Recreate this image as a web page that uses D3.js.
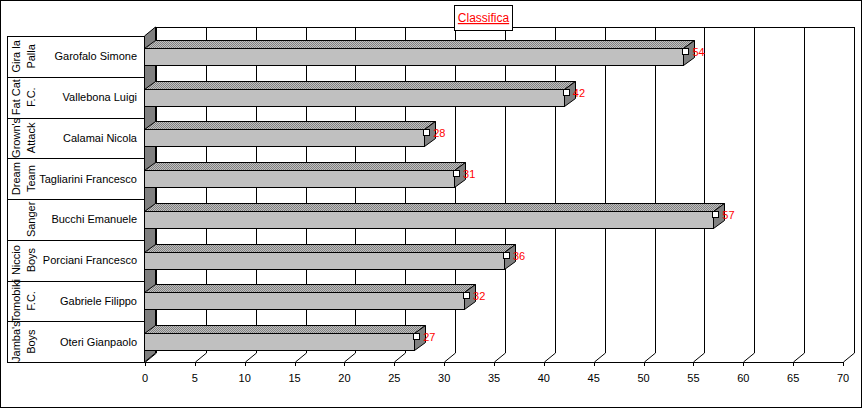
<!DOCTYPE html>
<html>
<head>
<meta charset="utf-8">
<script src="https://cdn.jsdelivr.net/npm/d3@7"></script>
<style>
  body { margin: 0; background: #fff; }
  svg { display: block; font-family: "Liberation Sans", Arial, sans-serif; }
</style>
</head>
<body>
<div></div>
<script>
const teams = [
  ["Gira la", "Palla"],
  ["Fat Cat", "F.C."],
  ["Grown's", "Attack"],
  ["Dream", "Team"],
  ["", "Sanger"],
  ["Niccio", "Boys"],
  ["Tomobiki", "F.C."],
  ["Jamba's", "Boys"],
];
const players = [
  "Garofalo Simone",
  "Vallebona Luigi",
  "Calamai Nicola",
  "Tagliarini Francesco",
  "Bucchi Emanuele",
  "Porciani Francesco",
  "Gabriele Filippo",
  "Oteri Gianpaolo",
];
const points = [54, 42, 28, 31, 57, 36, 32, 27];
const ticks = [0, 5, 10, 15, 20, 25, 30, 35, 40, 45, 50, 55, 60, 65, 70];

const w = 863;
const h = 410;
// depth of the 3d look
const dx = 11;
const dy = 9;
const plotTop = 36;
const plotBottom = 362;
const tableLeft = 7;

const svg = d3.select("div").append("svg").attr("width", w).attr("height", h);

const defs = svg.append("defs");
const pat = defs
  .append("pattern")
  .attr("id", "dither")
  .attr("width", 2)
  .attr("height", 2)
  .attr("patternUnits", "userSpaceOnUse");
pat.append("rect").attr("width", 2).attr("height", 2).attr("fill", "#c0c0c0");
pat.append("rect").attr("width", 1).attr("height", 1).attr("fill", "#808080");
pat.append("rect").attr("x", 1).attr("y", 1).attr("width", 1).attr("height", 1).attr("fill", "#808080");

const xScale = d3.scaleLinear().domain([0, 70]).range([145, 843]);
const yScale = d3.scaleBand().domain(players).range([plotTop, plotBottom]);
const barH = 17;

// outer frame
svg
  .append("rect")
  .attr("x", 0.5)
  .attr("y", 0.5)
  .attr("width", 861)
  .attr("height", 407)
  .attr("fill", "#fff")
  .attr("stroke", "#000");

const grid = svg.append("g").attr("stroke", "#000").attr("fill", "none");

// back wall top edge
grid
  .append("line")
  .attr("x1", xScale(0) + dx)
  .attr("x2", xScale(70) + dx)
  .attr("y1", plotTop - dy + 0.5)
  .attr("y2", plotTop - dy + 0.5);

// back wall verticals + floor slants + ticks
ticks.forEach((t) => {
  const x = Math.round(xScale(t)) + 0.5;
  grid
    .append("line")
    .attr("x1", x + dx)
    .attr("x2", x + dx)
    .attr("y1", plotTop - dy)
    .attr("y2", plotBottom - dy);
  grid
    .append("line")
    .attr("x1", x)
    .attr("y1", plotBottom)
    .attr("x2", x + dx)
    .attr("y2", plotBottom - dy);
  grid
    .append("line")
    .attr("x1", x)
    .attr("x2", x)
    .attr("y1", plotBottom)
    .attr("y2", plotBottom + 4);
});

// left wall
svg
  .append("polygon")
  .attr("points", [
    [xScale(0) - 0.5, plotTop],
    [xScale(0) + dx - 0.5, plotTop - dy],
    [xScale(0) + dx - 0.5, plotBottom - dy],
    [xScale(0) - 0.5, plotBottom],
  ].join(" "))
  .attr("fill", "#808080")
  .attr("stroke", "#000");

// left table with team and player names
const table = svg.append("g");
table
  .append("line")
  .attr("x1", tableLeft + 0.5)
  .attr("x2", tableLeft + 0.5)
  .attr("y1", plotTop)
  .attr("y2", plotBottom)
  .attr("stroke", "#000");
players.forEach((p, i) => {
  const y0 = Math.round(yScale(p)) + 0.5;
  table
    .append("line")
    .attr("x1", tableLeft)
    .attr("x2", xScale(0))
    .attr("y1", y0)
    .attr("y2", y0)
    .attr("stroke", "#000");
  const cy = yScale(p) + yScale.bandwidth() / 2;
  table
    .append("text")
    .attr("x", 137)
    .attr("y", cy + 4)
    .attr("text-anchor", "end")
    .attr("font-size", "11px")
    .text(p);
  teams[i].forEach((line, j) => {
    if (line === "") return;
    table
      .append("text")
      .attr("transform", "translate(" + (20 + j * 15) + "," + cy + ") rotate(-90)")
      .attr("text-anchor", "middle")
      .attr("font-size", "11px")
      .text(line);
  });
});

// axis line
svg
  .append("line")
  .attr("x1", tableLeft)
  .attr("x2", xScale(70))
  .attr("y1", plotBottom + 0.5)
  .attr("y2", plotBottom + 0.5)
  .attr("stroke", "#000");

svg
  .append("g")
  .selectAll("text")
  .data(ticks)
  .enter()
  .append("text")
  .attr("x", (d) => xScale(d))
  .attr("y", 382)
  .attr("text-anchor", "middle")
  .attr("font-size", "11px")
  .text((d) => d);

// bars
const bars = svg
  .append("g")
  .selectAll("g")
  .data(players)
  .enter()
  .append("g")
  .attr("stroke", "#000")
  .attr("stroke-linejoin", "miter");

const faceTop = (p) => Math.round(yScale(p) + yScale.bandwidth() / 2 - barH / 2) + 0.5;

bars
  .append("polygon")
  .attr("points", (d, i) => {
    const x0 = xScale(0) - 0.5;
    const x1 = Math.round(xScale(points[i])) + 0.5;
    const y = faceTop(d);
    return [[x0, y], [x0 + dx, y - dy + 1], [x1 + dx, y - dy + 1], [x1, y]].join(" ");
  })
  .attr("fill", "url(#dither)");

bars
  .append("polygon")
  .attr("points", (d, i) => {
    const x1 = Math.round(xScale(points[i])) + 0.5;
    const y = faceTop(d);
    return [[x1, y], [x1 + dx, y - dy + 1], [x1 + dx, y + barH - dy + 1], [x1, y + barH]].join(" ");
  })
  .attr("fill", "#808080");

bars
  .append("rect")
  .attr("x", xScale(0) - 0.5)
  .attr("y", (d) => faceTop(d))
  .attr("width", (d, i) => Math.round(xScale(points[i])) - xScale(0) + 1)
  .attr("height", barH)
  .attr("fill", "#c0c0c0");

// value markers
bars
  .append("rect")
  .attr("x", (d, i) => Math.round(xScale(points[i])) - 0.5)
  .attr("y", (d) => faceTop(d))
  .attr("width", 6)
  .attr("height", 6)
  .attr("fill", "#fff");

bars
  .append("text")
  .attr("x", (d, i) => xScale(points[i]) + 9)
  .attr("y", (d) => faceTop(d) + 7)
  .attr("stroke", "none")
  .attr("fill", "#ff0000")
  .attr("font-size", "11px")
  .text((d, i) => points[i]);

// title box
svg
  .append("rect")
  .attr("x", 454.5)
  .attr("y", 5.5)
  .attr("width", 58)
  .attr("height", 25)
  .attr("fill", "#fff")
  .attr("stroke", "#000");
svg
  .append("text")
  .attr("x", 483.5)
  .attr("y", 22)
  .attr("text-anchor", "middle")
  .attr("fill", "#ff0000")
  .attr("font-size", "12px")
  .attr("text-decoration", "underline")
  .text("Classifica");
</script>
</body>
</html>
